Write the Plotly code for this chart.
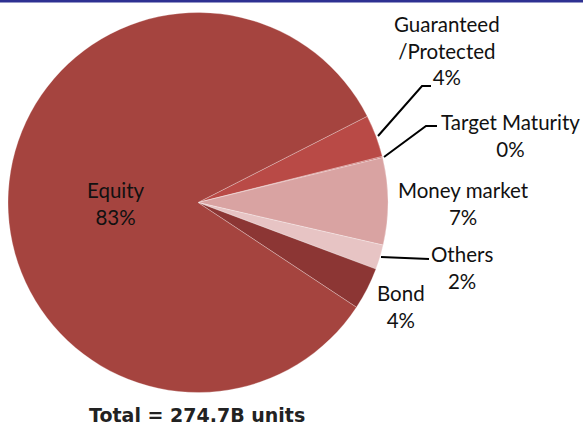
import plotly.graph_objects as go

# ---- data ----
categories = ["Guaranteed<br>/Protected", "Target Maturity", "Money market", "Others", "Bond", "Equity"]
shares = [3.6, 0.1, 7.4, 2.1, 3.6, 83.2]          # % of total
display_pct = [4, 0, 7, 2, 4, 83]                 # labels as printed
total_label = "Total = 274.7B units"

colors = ["#B94A46", "#C0504D", "#D9A3A2", "#E7C4C4", "#8C3634", "#A5443F"]

W, H = 583, 426


def px(x, y):
    return x / W, 1 - y / H


fig = go.Figure()
fig.add_trace(go.Pie(
    labels=categories,
    values=shares,
    sort=False,
    direction="clockwise",
    rotation=63,
    textinfo="none",
    hoverinfo="label+percent",
    marker=dict(colors=colors, line=dict(color="rgba(255,255,255,0.35)", width=0.8)),
    domain=dict(x=[8 / W, 388 / W], y=[1 - 393 / H, 1 - 12 / H]),
    showlegend=False,
))

# label positions (pixel centres)
label_pos = [(447, 51), (510, 135), (463, 203), (462, 267), (401, 306), (116, 203)]
annotations = []
for cat, pct, (lx, ly) in zip(categories, display_pct, label_pos):
    ax_, ay_ = px(lx, ly)
    annotations.append(dict(
        x=ax_, y=ay_, xref="paper", yref="paper", xanchor="center", yanchor="middle",
        text=f"{cat}<br>{pct}%", showarrow=False,
        font=dict(family="Lato, Open Sans, sans-serif", size=20.5, color="#111111"),
    ))

tx, ty = px(197, 415)
annotations.append(dict(
    x=tx, y=ty, xref="paper", yref="paper", xanchor="center", yanchor="middle",
    text=f"<b>{total_label}</b>", showarrow=False,
    font=dict(family="DejaVu Sans, Verdana, sans-serif", size=19, color="#222222"),
))

# leader lines
leaders = [
    [(378, 136), (422, 86), (431, 86)],
    [(384, 157), (426, 126), (437, 126)],
    [(381, 257), (429, 259)],
]
shapes = []
for pts in leaders:
    path = ""
    for i, (x, y) in enumerate(pts):
        X, Y = px(x, y)
        path += ("M" if i == 0 else " L") + f" {X:.5f} {Y:.5f}"
    shapes.append(dict(type="path", xref="paper", yref="paper", path=path,
                       line=dict(color="black", width=2)))

# top blue rule
shapes.append(dict(type="rect", xref="paper", yref="paper", x0=0, x1=1,
                   y0=1 - 2.5 / H, y1=1, fillcolor="#2E3192", line=dict(width=0)))

fig.update_layout(
    width=W, height=H,
    margin=dict(l=0, r=0, t=0, b=0),
    paper_bgcolor="white", plot_bgcolor="white",
    annotations=annotations, shapes=shapes,
)

fig.write_html(
    "out.html",
    config={"displayModeBar": False},
    post_script="document.body.style.margin='0';document.body.style.padding='0';",
)
